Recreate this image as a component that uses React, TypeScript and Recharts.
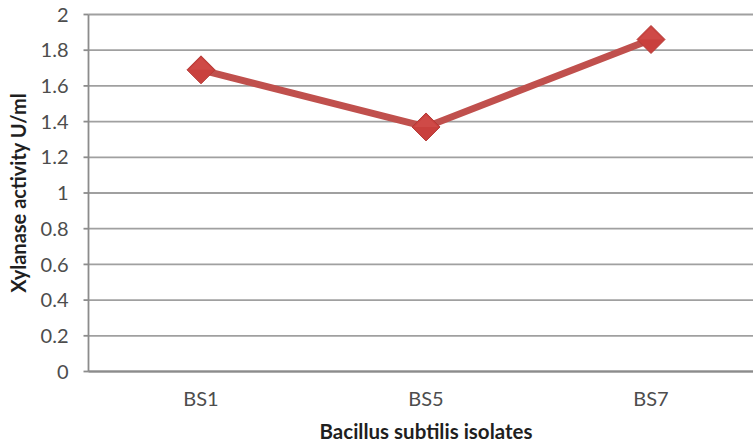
import React from "react";
import { LineChart, Line, XAxis, YAxis, CartesianGrid, Label } from "recharts";

const categories = ["BS1", "BS5", "BS7"];
const activity = [1.69, 1.37, 1.86];
const yTicks = [0, 0.2, 0.4, 0.6, 0.8, 1, 1.2, 1.4, 1.6, 1.8, 2];
const boundaryTicks = [0, 1, 2, 3];

const data = categories.map((c, i) => ({ name: c, value: activity[i] }));

const FONT = "Lato, 'Open Sans', sans-serif";

const Diamond = (props: any) => {
  const { cx, cy } = props;
  if (cx == null || cy == null) return null;
  const r = 14;
  return (
    <g>
      <polygon
        points={`${cx},${cy - r} ${cx + r},${cy} ${cx},${cy + r} ${cx - r},${cy}`}
        fill="#c9403d"
        stroke="#b53a37"
        strokeWidth={1}
      />
      <polygon
        points={`${cx},${cy - r + 2} ${cx + r - 2},${cy} ${cx - r + 2},${cy}`}
        fill="#d4524e"
        opacity={0.6}
      />
    </g>
  );
};

export default function App() {
  return (
    <div
      style={{
        position: "absolute",
        left: 0,
        top: 0,
        width: 753,
        height: 446,
        overflow: "hidden",
        background: "#fff",
      }}
    >
      <LineChart
        width={775}
        height={446}
        data={data}
        margin={{ top: 14.5, right: 11.5, left: 0, bottom: 0 }}
      >
        <CartesianGrid
          vertical={false}
          stroke="#a0a0a0"
          strokeWidth={1.8}
          yAxisId="y"
          xAxisId="cat"
        />
        <XAxis
          xAxisId="cat"
          dataKey="name"
          scale="point"
          padding={{ left: 112.5, right: 112.5 }}
          height={74.5}
          axisLine={{ stroke: "#8c8c8c", strokeWidth: 1.8 }}
          tickLine={false}
          tickSize={5}
          tickMargin={15}
          tick={{ fill: "#4d4d4d", fontSize: 20, fontFamily: FONT }}
        >
          <Label
            value="Bacillus subtilis isolates"
            position="insideBottom"
            offset={7}
            style={{ fill: "#1f1f1f", fontSize: 20.5, fontWeight: 700, fontFamily: FONT }}
          />
        </XAxis>
        <XAxis
          xAxisId="b"
          type="number"
          domain={[0, 3]}
          ticks={boundaryTicks}
          height={0}
          axisLine={false}
          tick={false}
          tickLine={{ stroke: "#8c8c8c", strokeWidth: 1.8 }}
          tickSize={5}
        />
        <YAxis
          yAxisId="y"
          domain={[0, 2]}
          ticks={yTicks}
          width={88.5}
          interval={0}
          axisLine={{ stroke: "#8c8c8c", strokeWidth: 1.8 }}
          tickLine={{ stroke: "#8c8c8c", strokeWidth: 1.8 }}
          tickSize={5}
          tickMargin={15}
          tick={{ fill: "#4d4d4d", fontSize: 20, fontFamily: FONT }}
        >
          <Label
            value="Xylanase activity U/ml"
            angle={-90}
            position="insideLeft"
            offset={19}
            style={{ fill: "#1f1f1f", fontSize: 20, fontWeight: 700, fontFamily: FONT, textAnchor: "middle" }}
          />
        </YAxis>
        <Line
          xAxisId="cat"
          yAxisId="y"
          dataKey="value"
          stroke="#c0504d"
          strokeWidth={7}
          dot={<Diamond />}
          activeDot={false}
          isAnimationActive={false}
        />
      </LineChart>
    </div>
  );
}
